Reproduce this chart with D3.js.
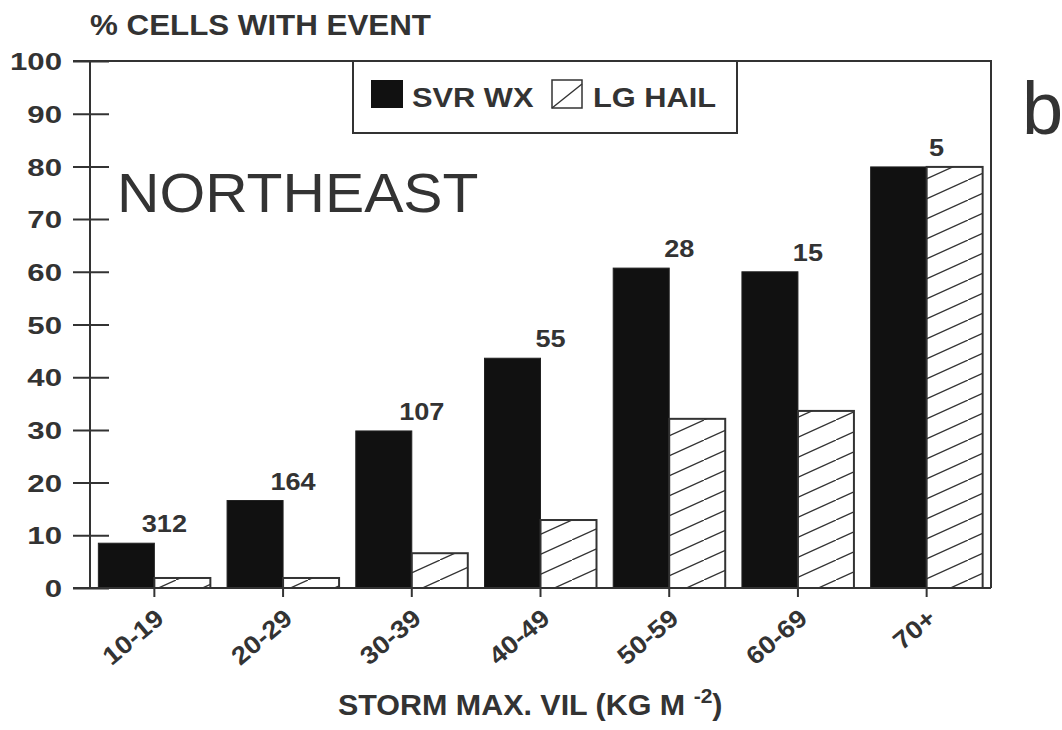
<!DOCTYPE html>
<html>
<head>
<meta charset="utf-8">
<script src="https://cdn.jsdelivr.net/npm/d3@7"></script>
<style>
  body { margin: 0; background: #fff; }
  svg text { font-family: "Liberation Sans", Arial, Helvetica, sans-serif; fill: #333; }
</style>
</head>
<body>
<svg id="chart" width="1062" height="730"></svg>
<script>
var categories = ['10-19', '20-29', '30-39', '40-49', '50-59', '60-69', '70+'];
var svrWx = [8.5, 16.6, 29.8, 43.6, 60.7, 60.0, 79.9];
var lgHail = [1.9, 1.9, 6.6, 12.9, 32.1, 33.6, 79.9];
var cellCounts = [312, 164, 107, 55, 28, 15, 5];
var yTicks = [0, 10, 20, 30, 40, 50, 60, 70, 80, 90, 100];

var svg = d3.select('#chart'),
    plotLeft = 90, plotRight = 991, plotTop = 61, plotBottom = 588,
    barW = 56,
    ink = '#333';

var x = d3.scaleBand()
  .domain(categories)
  .range([plotLeft, plotRight]);

var y = d3.scaleLinear()
  .domain([0, 100])
  .range([plotBottom, plotTop]);

function center(c) { return x(c) + x.bandwidth() / 2; }

// hatch fill for the LG HAIL bars
svg.append('defs')
  .append('pattern')
    .attr('id', 'hatch')
    .attr('patternUnits', 'userSpaceOnUse')
    .attr('width', 44)
    .attr('height', 20)
  .append('path')
    .attr('d', 'M-4.4,22L48.4,-2')
    .attr('stroke', ink)
    .attr('stroke-width', 1.3);

// bars
svg.append('g').selectAll('rect')
  .data(categories)
  .enter()
  .append('rect')
    .attr('x', function(d) { return center(d) - barW; })
    .attr('y', function(d, i) { return y(svrWx[i]); })
    .attr('width', barW)
    .attr('height', function(d, i) { return y(0) - y(svrWx[i]); })
    .attr('fill', '#111')
    .attr('stroke', '#222')
    .attr('stroke-width', 1);

var hail = svg.append('g').selectAll('g')
  .data(categories)
  .enter()
  .append('g');

hail.append('rect')
    .attr('x', function(d) { return center(d); })
    .attr('y', function(d, i) { return y(lgHail[i]); })
    .attr('width', barW)
    .attr('height', function(d, i) { return y(0) - y(lgHail[i]); })
    .attr('fill', '#fff');
hail.append('rect')
    .attr('x', function(d) { return center(d); })
    .attr('y', function(d, i) { return y(lgHail[i]); })
    .attr('width', barW)
    .attr('height', function(d, i) { return y(0) - y(lgHail[i]); })
    .attr('fill', 'url(#hatch)')
    .attr('stroke', ink)
    .attr('stroke-width', 2);

// cell counts above the bars
svg.append('g').selectAll('text')
  .data(categories)
  .enter()
  .append('text')
    .attr('transform', function(d, i) {
      return 'translate(' + (center(d) + 10) + ',' + (y(svrWx[i]) - 11) + ') scale(1.13,1)';
    })
    .attr('text-anchor', 'middle')
    .attr('font-size', 24)
    .attr('font-weight', 'bold')
    .text(function(d, i) { return cellCounts[i]; });

// y axis
var yAxis = svg.append('g')
  .attr('transform', 'translate(' + plotLeft + ',0)')
  .call(d3.axisLeft(y).tickValues(yTicks).tickSizeOuter(0));

yAxis.select('.domain').remove();
yAxis.selectAll('.tick line')
  .attr('x1', -17)
  .attr('x2', 19)
  .attr('stroke', ink)
  .attr('stroke-width', 2);
yAxis.selectAll('.tick text')
  .attr('x', 0)
  .attr('dy', '0.36em')
  .attr('transform', 'translate(-28,0) scale(1.3,1)')
  .attr('font-size', 24)
  .attr('font-weight', 'bold')
  .attr('fill', ink);

// x axis
var xAxis = svg.append('g')
  .attr('transform', 'translate(0,' + plotBottom + ')')
  .call(d3.axisBottom(x).tickSizeInner(9).tickSizeOuter(0));

xAxis.select('.domain').remove();
xAxis.selectAll('.tick line')
  .attr('stroke', ink)
  .attr('stroke-width', 2);
xAxis.selectAll('.tick text')
  .attr('x', 0)
  .attr('y', 0)
  .attr('dy', 0)
  .attr('text-anchor', 'end')
  .attr('transform', 'translate(11,33) rotate(-40) scale(1.1,1)')
  .attr('font-size', 25)
  .attr('font-weight', 'bold')
  .attr('fill', ink);

// frame
svg.append('path')
  .attr('d', 'M' + plotLeft + ',' + plotBottom + 'V' + plotTop + 'H' + plotRight + 'V' + plotBottom +
             'M' + (plotLeft - 17) + ',' + plotBottom + 'H' + plotRight +
             'M' + (plotLeft - 17) + ',' + plotTop + 'H' + plotLeft)
  .attr('fill', 'none')
  .attr('stroke', ink)
  .attr('stroke-width', 2);

// legend
var legend = svg.append('g');
legend.append('rect')
  .attr('x', 353).attr('y', plotTop)
  .attr('width', 384).attr('height', 72)
  .attr('fill', '#fff')
  .attr('stroke', ink)
  .attr('stroke-width', 2);
legend.append('rect')
  .attr('x', 371).attr('y', 80)
  .attr('width', 32).attr('height', 28)
  .attr('fill', '#111');
legend.append('text')
  .attr('transform', 'translate(412,107) scale(1.1,1)')
  .attr('font-size', 28)
  .attr('font-weight', 'bold')
  .text('SVR WX');
legend.append('rect')
  .attr('x', 552).attr('y', 80)
  .attr('width', 30).attr('height', 28)
  .attr('fill', '#fff')
  .attr('stroke', ink)
  .attr('stroke-width', 1.5);
legend.append('line')
  .attr('x1', 552).attr('y1', 108)
  .attr('x2', 582).attr('y2', 84)
  .attr('stroke', ink)
  .attr('stroke-width', 1.5);
legend.append('text')
  .attr('transform', 'translate(593,107) scale(1.1,1)')
  .attr('font-size', 28)
  .attr('font-weight', 'bold')
  .text('LG HAIL');

// titles
svg.append('text')
  .attr('transform', 'translate(90,35) scale(1.08,1)')
  .attr('font-size', 29)
  .attr('font-weight', 'bold')
  .text('% CELLS WITH EVENT');

svg.append('text')
  .attr('transform', 'translate(117,212) scale(1.05,1)')
  .attr('font-size', 56)
  .text('NORTHEAST');

svg.append('text')
  .attr('x', 1022)
  .attr('y', 134)
  .attr('font-size', 74)
  .text('b');

var xTitle = svg.append('text')
  .attr('transform', 'translate(338,715) scale(1.05,1)')
  .attr('font-size', 29)
  .attr('font-weight', 'bold');
xTitle.append('tspan').text('STORM MAX. VIL (KG M ');
xTitle.append('tspan').attr('font-size', 20).attr('dy', -12).text('-2');
xTitle.append('tspan').attr('dy', 12).text(')');
</script>
</body>
</html>
